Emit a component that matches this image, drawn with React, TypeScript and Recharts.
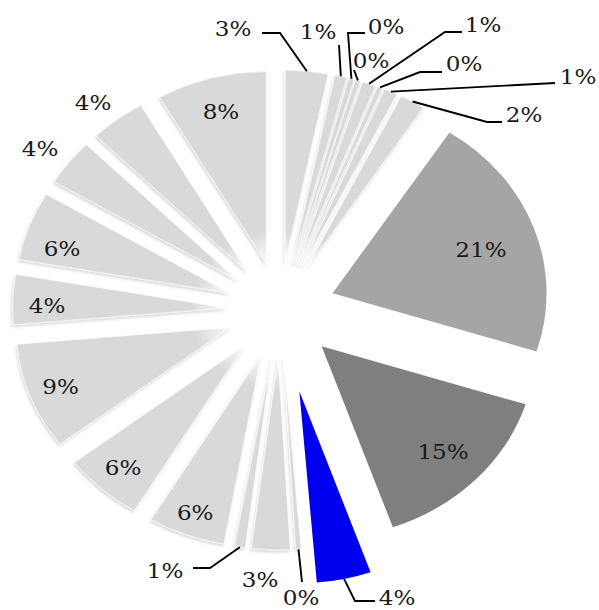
import { PieChart, Pie, Cell } from "recharts";

// slices listed clockwise from twelve o'clock
const categories = [
  "C01", "C02", "C03", "C04", "C05", "C06", "C07", "C08", "C09", "C10", "C11",
  "C12", "C13", "C14", "C15", "C16", "C17", "C18", "C19", "C20", "C21", "C22",
];

// share of the total, in percent
const shares = [
  3.2, 0.9, 0.4, 0.4, 1.0, 0.4, 1.0, 1.9, 20.7, 14.7, 4.1,
  0.4, 2.9, 0.8, 5.8, 6.0, 9.0, 4.2, 5.8, 3.9, 4.2, 8.3,
];

const chartData = categories.map((name, idx) => ({ name, value: shares[idx], idx }));

const RAD = Math.PI / 180;
const STRETCH = 1.115; // pie is drawn a little wider than tall
const LIGHT = "#D9D9D9";
const fills: Record<number, string> = { 8: "#A5A5A5", 9: "#7F7F7F", 10: "#0000F0" };
const PULL = 48;
const pullOut: Record<number, number> = { 8: 50, 9: 52, 10: 83 };

// labels with a fixed spot; `via` holds the leader bends, empty means no leader
type Callout = { x: number; y: number; via: [number, number][] };
const callouts: Record<number, Callout> = {
  0: { x: 233, y: 29, via: [[280, 33], [262, 33]] },
  1: { x: 318, y: 32, via: [[339, 45]] },
  2: { x: 386, y: 27, via: [[348, 33], [365, 33]] },
  3: { x: 371, y: 61, via: [[354, 70]] },
  4: { x: 483, y: 25, via: [[445, 32], [462, 32]] },
  5: { x: 464, y: 64, via: [[420, 72], [442, 72]] },
  6: { x: 578, y: 77, via: [[555, 83]] },
  7: { x: 524, y: 115, via: [[487, 122], [502, 122]] },
  8: { x: 481, y: 250, via: [] },
  10: { x: 397, y: 598, via: [[355, 601], [375, 601]] },
  11: { x: 301, y: 598, via: [[302, 582]] },
  12: { x: 260, y: 580, via: [] },
  13: { x: 165, y: 571, via: [[210, 568], [193, 568]] },
  17: { x: 47, y: 306, via: [] },
  18: { x: 62, y: 249, via: [] },
  19: { x: 40, y: 149, via: [] },
  20: { x: 93, y: 103, via: [] },
};
// how far along the radius the remaining inside labels sit
const INSIDE = 0.85;
const insideAt: Record<number, number> = { 9: 0.79, 14: 0.88, 21: 0.82 };

function point(ox: number, oy: number, r: number, angle: number): [number, number] {
  return [ox + STRETCH * r * Math.cos(angle * RAD), oy - r * Math.sin(angle * RAD)];
}

function ExplodedSlice(props: any) {
  const { cx, cy, outerRadius, startAngle, endAngle, midAngle, fill, payload } = props;
  const i = payload.idx;
  const [ox, oy] = point(cx, cy, pullOut[i] ?? PULL, midAngle);
  const [x1, y1] = point(ox, oy, outerRadius, startAngle);
  const [x2, y2] = point(ox, oy, outerRadius, endAngle);
  const sweep = startAngle > endAngle ? 1 : 0;
  const large = Math.abs(startAngle - endAngle) > 180 ? 1 : 0;
  const path = `M${ox},${oy} L${x1},${y1} A${outerRadius * STRETCH},${outerRadius} 0 ${large} ${sweep} ${x2},${y2} Z`;
  const light = !(i in fills);
  return (
    <g>
      <defs>
        <radialGradient
          id={`fade${i}`}
          gradientUnits="userSpaceOnUse"
          cx={cx}
          cy={cy}
          r={80}
          gradientTransform={`translate(${cx} ${cy}) scale(${STRETCH} 1) translate(${-cx} ${-cy})`}
        >
          <stop offset="0.55" stopColor="#FFFFFF" />
          <stop offset="1" stopColor={LIGHT} />
        </radialGradient>
        <filter id={`shade${i}`} x="-20%" y="-20%" width="140%" height="140%">
          <feDropShadow dx="-1" dy="2" stdDeviation="1.4" floodColor="#000" floodOpacity="0.16" />
        </filter>
      </defs>
      <path
        d={path}
        fill={light ? `url(#fade${i})` : fill}
        stroke="#FFFFFF"
        strokeWidth={light ? 0.6 : 0}
        filter={light ? `url(#shade${i})` : undefined}
      />
    </g>
  );
}

function labelText(x: number, y: number, text: string) {
  return (
    <text
      transform={`translate(${x} ${y}) scale(1.1 1)`}
      textAnchor="middle"
      dominantBaseline="central"
      fontFamily="DejaVu Serif"
      fontSize={21}
      fill="#1A1A1A"
    >
      {text}
    </text>
  );
}

function SliceLabel(props: any) {
  const { cx, cy, midAngle, outerRadius, percent, index } = props;
  const text = `${Math.round(percent * 100)}%`;
  const [ox, oy] = point(cx, cy, pullOut[index] ?? PULL, midAngle);
  const c = callouts[index];
  if (c) {
    if (c.via.length === 0) return labelText(c.x, c.y, text);
    const start = point(ox, oy, outerRadius, midAngle);
    const pts = [start, ...c.via].map((p) => p.join(",")).join(" ");
    return (
      <g>
        <polyline points={pts} fill="none" stroke="#000" strokeWidth={1.9} />
        {labelText(c.x, c.y, text)}
      </g>
    );
  }
  const [lx, ly] = point(ox, oy, outerRadius * (insideAt[index] ?? INSIDE), midAngle);
  return labelText(lx, ly, text);
}

export default function App() {
  return (
    <div style={{ position: "absolute", left: 0, top: 0, width: 599, height: 610, background: "#fff" }}>
      <PieChart width={599} height={610} margin={{ top: 0, right: 0, bottom: 0, left: 0 }}>
        <Pie
          data={chartData}
          dataKey="value"
          nameKey="name"
          cx={280}
          cy={310}
          outerRadius={192}
          startAngle={90}
          endAngle={-270}
          stroke="none"
          shape={ExplodedSlice}
          label={SliceLabel}
          labelLine={false}
          isAnimationActive={false}
        >
          {chartData.map((d) => (
            <Cell key={d.name} fill={fills[d.idx] ?? LIGHT} />
          ))}
        </Pie>
      </PieChart>
    </div>
  );
}
